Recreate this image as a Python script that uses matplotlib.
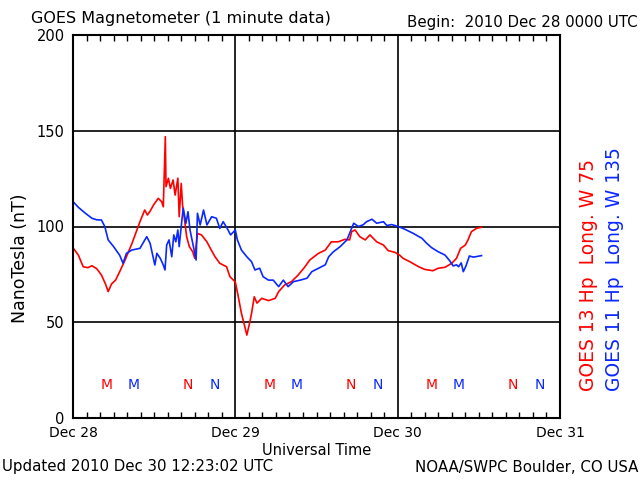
import matplotlib
matplotlib.use("Agg")
import matplotlib.pyplot as plt

# hours since 2010 Dec 28 00:00 UTC, field in nT
g13_hours = [0.0, 0.8, 1.5, 2.2, 2.8, 3.5, 4.2, 4.8, 5.2, 5.7, 6.3, 6.9, 7.7, 8.7, 9.9,
             10.6, 11.0, 11.4, 11.9, 12.6, 13.1, 13.35, 13.65, 13.75, 14.1, 14.4, 14.8,
             15.1, 15.5, 15.7, 16.0, 16.2, 16.5, 16.8, 17.2, 17.7, 18.0, 18.4, 19.0, 19.8,
             20.3, 21.0, 21.7, 22.7, 23.2, 24.0, 24.4, 24.9, 25.4, 25.7, 26.1, 26.4,
             26.8, 27.2, 27.9, 28.9, 29.9, 30.4, 31.3, 32.3, 33.3, 34.3, 35.0, 36.3, 37.3,
             38.2, 39.2, 40.2, 40.9, 41.2, 41.7, 42.4, 43.2, 43.9, 44.9, 45.9, 46.6, 47.6,
             48.3, 48.8, 49.8, 51.1, 52.0, 53.2, 54.0, 55.0, 56.0, 56.7, 57.3, 58.0, 58.4,
             58.9, 59.7, 60.4]
g13_nt = [88.9, 85, 79, 78.5, 79.5, 78, 74.7, 70, 66, 70, 72, 76.4, 82.5, 91, 102.5,
          108.6, 106, 108, 111.2, 114.7, 113, 110.3, 146.9, 120.8, 125.2, 119.9, 124.3,
          116.4, 125.2, 105.1, 122.5, 111.2, 103.4, 94.7, 89.5, 86.8, 83.4, 96.4, 95.6, 92,
          88.6, 84.2, 80.8, 79, 73.8, 71, 64, 54.7, 47.7, 43.3, 49.4, 54.7,
          63.3, 60, 62.5, 61.3, 62.5, 66, 69.5, 71.2, 74.7, 79, 82.5, 86, 87.7,
          92, 92, 93.3, 93, 97.3, 98.2, 94.7, 93, 95.6, 92, 90.3, 87.4, 86.5,
          85, 83.4, 81.6, 79, 77.6, 76.9, 78.2, 78.7, 80.8, 83.4, 88.6, 90.3, 93,
          97.3, 99.1, 99.6]

g11_hours = [0.0, 0.8, 1.8, 2.8, 3.5, 4.2, 4.7, 5.2, 6.0, 6.9, 7.4, 7.9, 8.7, 9.9, 10.9,
             11.4, 12.1, 12.4, 12.9, 13.35, 13.6, 13.85, 14.2, 14.6, 14.9, 15.2, 15.5,
             15.7, 16.1, 16.3, 16.7, 17.0, 17.3, 17.8, 18.2, 18.4, 18.8, 19.3, 19.8, 20.5,
             21.2, 21.7, 22.2, 22.8, 23.3, 24.0, 24.3, 24.9, 25.7, 26.4, 26.9, 27.6, 28.1,
             28.9, 29.6, 30.4, 31.1, 31.8, 32.6, 33.6, 34.6, 35.3, 36.3, 37.3, 37.8, 38.5,
             39.5, 40.5, 41.1, 41.5, 42.2, 42.9, 43.4, 44.2, 44.9, 45.9, 46.4, 47.1, 48.1,
             49.1, 50.3, 51.6, 52.3, 53.0, 54.0, 55.0, 55.7, 56.2, 56.7, 57.0, 57.4, 57.7,
             58.1, 58.6, 59.2, 60.4]
g11_nt = [113, 110, 107, 104.3, 103.5, 103.4, 100, 93, 89.5, 85, 80.8, 86, 87.7, 88.6, 94.7,
          91.2, 79.9, 86, 83.4, 79.9, 77.3, 90.3, 93, 84.2, 95.6, 92, 98.2,
          89.5, 103.4, 109.5, 101.7, 107.7, 98.2, 89.5, 82.5, 106.9, 100.8, 108.6, 100.8, 105.1,
          104.3, 99, 102.5, 99, 95.6, 98.2, 93, 87.7, 84.2, 81.6, 77.3, 78.2, 73.8,
          72, 72, 68.6, 72, 68.6, 71.2, 72, 73, 76.4, 78.2, 80, 84.2, 86.8,
          89.5, 93, 98.2, 101.7, 100, 100.9, 102.5, 103.8, 101.7, 102.5, 100.5, 101, 100,
          98.5, 96.4, 93.8, 91.2, 89, 86.8, 85.1, 82.1, 79.4, 80, 79, 81, 76.4,
          79.4, 84.6, 84, 84.8]

# local midnight (M) and noon (N) for each satellite
g13_m = [5, 29, 53]
g13_n = [17, 41, 65]
g11_m = [9, 33, 57]
g11_n = [21, 45, 69]

day_ticks = [0, 24, 48, 72]
day_labels = ['Dec 28', 'Dec 29', 'Dec 30', 'Dec 31']
y_ticks = [0, 50, 100, 150, 200]

RED = '#ff0000'
BLUE = '#0a28ff'

plt.rcParams['font.family'] = ['DejaVu Sans']
fig = plt.figure(figsize=(6.4, 4.8), dpi=100)
ax = fig.add_axes([73/640, 1-418/480, 487/640, 383/480])

ax.plot(g13_hours, g13_nt, color=RED, lw=1.2)
ax.plot(g11_hours, g11_nt, color=BLUE, lw=1.2)

for h in g13_m:
    ax.text(h, 17, 'M', color=RED, ha='center', va='center', fontsize=10)
for h in g11_m:
    ax.text(h, 17, 'M', color=BLUE, ha='center', va='center', fontsize=10)
for h in g13_n:
    ax.text(h, 17, 'N', color=RED, ha='center', va='center', fontsize=10)
for h in g11_n:
    ax.text(h, 17, 'N', color=BLUE, ha='center', va='center', fontsize=10)

ax.set_xlim(0, 72)
ax.set_ylim(0, 200)
ax.set_xticks(day_ticks)
ax.set_xticklabels(day_labels, fontsize=10)
ax.set_xticks(range(0, 73, 2), minor=True)
ax.set_yticks(y_ticks)
ax.set_yticklabels([str(v) for v in y_ticks], fontsize=10.5)
ax.tick_params(axis='both', which='major', length=0, pad=6)
ax.tick_params(axis='x', which='minor', direction='in', length=4, width=1,
               top=True, bottom=True)
ax.grid(True, which='major', color='black', lw=1.2)
for s in ax.spines.values():
    s.set_linewidth(1.5)

ax.set_xlabel('Universal Time', fontsize=10.5, labelpad=2)

fig.text(20/640, 1-258/480, 'NanoTesla (nT)', fontsize=12.5, rotation=90,
         ha='center', va='center')
fig.text(31/640, 1-18/480, 'GOES Magnetometer (1 minute data)', fontsize=11.5, va='center')
fig.text(638/640, 1-22/480, 'Begin:  2010 Dec 28 0000 UTC', fontsize=10.8, va='center', ha='right')
fig.text(2/640, 1-467/480, 'Updated 2010 Dec 30 12:23:02 UTC', fontsize=10.8, va='center')
fig.text(638/640, 1-467/480, 'NOAA/SWPC Boulder, CO USA', fontsize=10.8, va='center', ha='right')
fig.text(589/640, 1-391/480, 'GOES 13 Hp  Long. W 75', color=RED, fontsize=13.5,
         rotation=90, ha='center', va='bottom')
fig.text(615/640, 1-391/480, 'GOES 11 Hp  Long. W 135', color=BLUE, fontsize=13.5,
         rotation=90, ha='center', va='bottom')

fig.savefig('out.png', dpi=100)
